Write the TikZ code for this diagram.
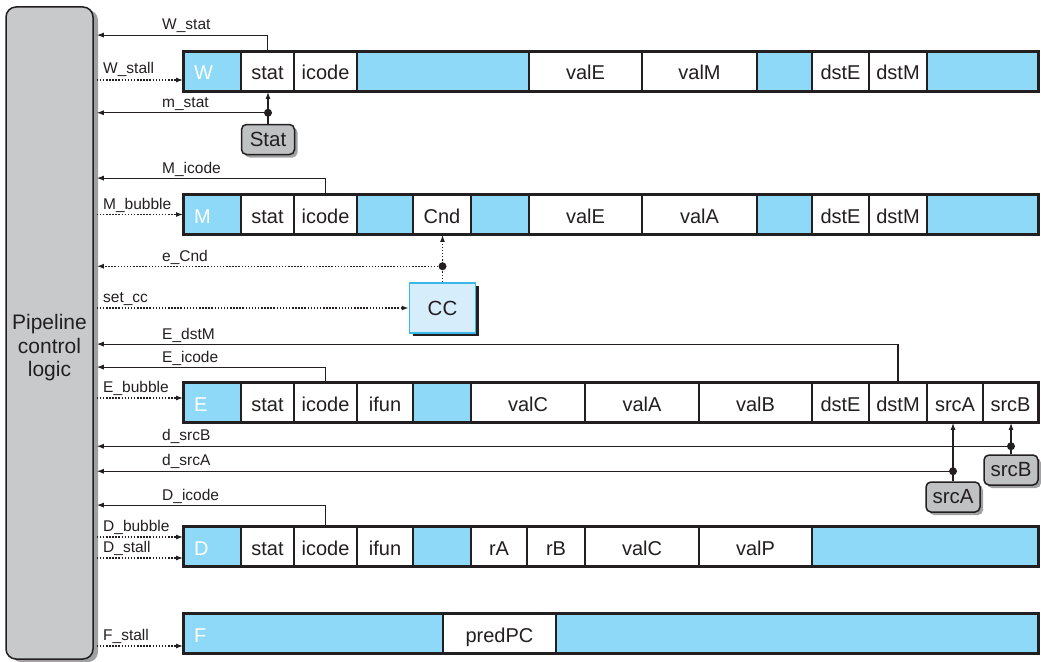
\documentclass[tikz,border=0pt]{standalone}
\usepackage{fontspec}
\setmainfont{Liberation Sans}
\usetikzlibrary{arrows.meta,shadows}

\definecolor{regblue}{RGB}{142,216,248}
\definecolor{ctrlgray}{RGB}{200,201,203}
\definecolor{shadegray}{RGB}{160,161,163}
\definecolor{boxgray}{RGB}{192,193,195}
\definecolor{ccfill}{RGB}{214,238,251}
\definecolor{ccline}{RGB}{58,184,234}
\definecolor{ink}{RGB}{35,31,32}

\tikzset{
  cell/.style={draw=ink, line width=1.8pt, minimum height=39pt, inner sep=0pt,
    text height=17pt, text depth=0pt, font=\fontsize{20}{22}\selectfont, text=ink},
  stage/.style={fill=regblue, text=white, align=left, text width=#1},
  field/.style={fill=white},
  gap/.style={fill=regblue},
  frame/.style={draw=ink, line width=3pt},
  sig/.style={font=\fontsize{15.5}{17}\selectfont, text=ink, inner sep=0pt, anchor=base west},
  fb/.style={draw=ink, line width=1.1pt, ->},
  ctl/.style={draw=ink, line width=1.5pt, dash pattern=on 1.5pt off 1.6pt, ->},
  dot/.style={circle, fill=ink, inner sep=0pt, minimum size=8pt},
  srcbox/.style={draw=ink, line width=1.5pt, fill=boxgray, rounded corners=5pt,
    minimum width=#1, minimum height=30pt, inner sep=0pt, text=ink,
    font=\fontsize{20.5}{22}\selectfont,
    drop shadow={shadow xshift=3pt, shadow yshift=-3pt, fill=shadegray, opacity=1}},
  ccbox/.style={draw=ccline, line width=1.5pt, fill=ccfill, minimum width=66pt,
    minimum height=50pt, inner sep=0pt, text=ink, font=\fontsize{20.5}{22}\selectfont,
    drop shadow={shadow xshift=3pt, shadow yshift=-3pt, fill=ink, opacity=1}},
  ctrlbox/.style={draw=ink, line width=1.5pt, fill=ctrlgray, rounded corners=10pt,
    minimum width=87pt, minimum height=652pt, inner sep=0pt,
    drop shadow={shadow xshift=5pt, shadow yshift=-3pt, fill=shadegray, opacity=1}},
  ctrltext/.style={align=center, text=ink, font=\fontsize{21}{23.5}\selectfont}
}

\begin{document}
\begin{tikzpicture}[x=1pt,y=-1pt,>={Latex[length=7pt,width=5pt]}]
\useasboundingbox (0,0) rectangle (1041,661);
% control logic
\node[ctrlbox] (ctrl) at (49.5,333) {};
\node[ctrltext] (ctrl-txt) at (49.5,348) {Pipeline\\control\\logic};
\coordinate (ce) at ([xshift=3pt]ctrl.east);

% W register
\foreach \xa/\xb/\nm/\txt/\kind in {184/241/W/W/stage, 241/294/W-stat/stat/field,
    294/357/W-icode/icode/field, 357/529/W-g1/{}/gap, 529/642/W-vale/valE/field,
    642/757/W-valm/valM/field, 757/812/W-g2/{}/gap, 812/869/W-dste/dstE/field,
    869/927/W-dstm/dstM/field, 927/1038/W-g3/{}/gap}{
  \pgfmathsetmacro\xm{(\xa+\xb)/2}
  \pgfmathsetmacro\cw{\xb-\xa}
  \pgfmathsetmacro\tw{\xb-\xa-20}
  \node[cell, \kind=\tw pt, minimum width=\cw pt] (\nm) at (\xm,71.5) {\txt};
}
\draw[frame] (W.north west) rectangle (W-g3.south east);

% M register
\foreach \xa/\xb/\nm/\txt/\kind in {184/241/M/M/stage, 241/294/M-stat/stat/field,
    294/357/M-icode/icode/field, 357/413/M-g1/{}/gap, 413/471/M-cnd/Cnd/field,
    471/529/M-g2/{}/gap, 529/642/M-vale/valE/field, 642/757/M-vala/valA/field,
    757/812/M-g3/{}/gap, 812/869/M-dste/dstE/field, 869/927/M-dstm/dstM/field,
    927/1038/M-g4/{}/gap}{
  \pgfmathsetmacro\xm{(\xa+\xb)/2}
  \pgfmathsetmacro\cw{\xb-\xa}
  \pgfmathsetmacro\tw{\xb-\xa-20}
  \node[cell, \kind=\tw pt, minimum width=\cw pt] (\nm) at (\xm,214.5) {\txt};
}
\draw[frame] (M.north west) rectangle (M-g4.south east);

% E register
\foreach \xa/\xb/\nm/\txt/\kind in {184/241/E/E/stage, 241/294/E-stat/stat/field,
    294/357/E-icode/icode/field, 357/413/E-ifun/ifun/field, 413/471/E-g1/{}/gap,
    471/585/E-valc/valC/field, 585/699/E-vala/valA/field, 699/812/E-valb/valB/field,
    812/869/E-dste/dstE/field, 869/927/E-dstm/dstM/field, 927/983/E-srca/srcA/field,
    983/1038/E-srcb/srcB/field}{
  \pgfmathsetmacro\xm{(\xa+\xb)/2}
  \pgfmathsetmacro\cw{\xb-\xa}
  \pgfmathsetmacro\tw{\xb-\xa-20}
  \node[cell, \kind=\tw pt, minimum width=\cw pt] (\nm) at (\xm,402.5) {\txt};
}
\draw[frame] (E.north west) rectangle (E-srcb.south east);

% D register
\foreach \xa/\xb/\nm/\txt/\kind in {184/241/D/D/stage, 241/294/D-stat/stat/field,
    294/357/D-icode/icode/field, 357/413/D-ifun/ifun/field, 413/471/D-g1/{}/gap,
    471/527/D-ra/rA/field, 527/585/D-rb/rB/field, 585/699/D-valc/valC/field,
    699/812/D-valp/valP/field, 812/1038/D-g2/{}/gap}{
  \pgfmathsetmacro\xm{(\xa+\xb)/2}
  \pgfmathsetmacro\cw{\xb-\xa}
  \pgfmathsetmacro\tw{\xb-\xa-20}
  \node[cell, \kind=\tw pt, minimum width=\cw pt] (\nm) at (\xm,546.5) {\txt};
}
\draw[frame] (D.north west) rectangle (D-g2.south east);

% F register
\foreach \xa/\xb/\nm/\txt/\kind in {184/443/F/F/stage, 443/556/F-predpc/predPC/field,
    556/1038/F-g1/{}/gap}{
  \pgfmathsetmacro\xm{(\xa+\xb)/2}
  \pgfmathsetmacro\cw{\xb-\xa}
  \pgfmathsetmacro\tw{\xb-\xa-20}
  \node[cell, \kind=\tw pt, minimum width=\cw pt] (\nm) at (\xm,633.5) {\txt};
}
\draw[frame] (F.north west) rectangle (F-g1.south east);

% W signals
\draw[fb] (W-stat.north) -- ++(0,-16) coordinate (w-stat) -- (ce |- w-stat);
\coordinate (w-in) at ([yshift=-8.5pt]W.west);
\draw[ctl] (ce |- w-in) -- (w-in);
\node[srcbox=53pt] (stat-src) at (268,139.5) {Stat};
\node[dot] (m-stat) at ([yshift=11pt]stat-src.north) {};
\draw[fb] (stat-src.north) -- (stat-src.north |- W-stat.south);
\draw[fb] (m-stat) -- (ce |- m-stat);
\node[sig] (l-wstat) at (162,30) {W\_stat};
\node[sig] (l-wstall) at (103,74) {W\_stall};
\node[sig] (l-mstat) at (162,107) {m\_stat};

% M signals and condition codes
\draw[fb] (M-icode.north) -- ++(0,-16) coordinate (m-icode) -- (ce |- m-icode);
\draw[ctl] (ce |- M.west) -- (M.west);
\node[ccbox] (cc) at (442.5,308) {CC};
\node[dot] (e-cnd) at ([yshift=16pt]cc.north) {};
\draw[ctl] (cc.north) -- (cc.north |- M-cnd.south);
\draw[ctl] (e-cnd) -- (ce |- e-cnd);
\draw[ctl] (ce |- cc.west) -- (cc.west);
\node[sig] (l-micode) at (162,173) {M\_icode};
\node[sig] (l-mbubble) at (103,209) {M\_bubble};
\node[sig] (l-ecnd) at (162,261) {e\_Cnd};
\node[sig] (l-setcc) at (103,302) {set\_cc};

% E signals
\draw[fb] (E-dstm.north) -- ++(0,-38) coordinate (e-dstm) -- (ce |- e-dstm);
\draw[fb] (E-icode.north) -- ++(0,-15) coordinate (e-icode) -- (ce |- e-icode);
\coordinate (e-in) at ([yshift=4.5pt]E.west);
\draw[ctl] (ce |- e-in) -- (e-in);
\node[sig] (l-edstm) at (162,339) {E\_dstM};
\node[sig] (l-eicode) at (162,362) {E\_icode};
\node[sig] (l-ebubble) at (103,392) {E\_bubble};

% register ids from decode
\node[srcbox=54pt] (srcb-src) at (1011,470) {srcB};
\node[srcbox=54pt] (srca-src) at (953,497) {srcA};
\node[dot] (d-srcb) at ([yshift=8pt]srcb-src.north) {};
\node[dot] (d-srca) at ([yshift=10pt]srca-src.north) {};
\draw[fb] (srcb-src.north) -- (srcb-src.north |- E-srcb.south);
\draw[fb] (srca-src.north) -- (srca-src.north |- E-srca.south);
\draw[fb] (d-srcb) -- (ce |- d-srcb);
\draw[fb] (d-srca) -- (ce |- d-srca);
\node[sig] (l-dsrcb) at (162,440) {d\_srcB};
\node[sig] (l-dsrca) at (162,465) {d\_srcA};

% D signals
\draw[fb] (D-icode.north) -- ++(0,-21) coordinate (d-icode) -- (ce |- d-icode);
\coordinate (d-in1) at ([yshift=9.5pt]D.west);
\coordinate (d-in2) at ([yshift=-11.5pt]D.west);
\draw[ctl] (ce |- d-in1) -- (d-in1);
\draw[ctl] (ce |- d-in2) -- (d-in2);
\node[sig] (l-dicode) at (162,500) {D\_icode};
\node[sig] (l-dbubble) at (103,531) {D\_bubble};
\node[sig] (l-dstall) at (103,552) {D\_stall};

% F signal
\coordinate (f-in) at ([yshift=-12.5pt]F.west);
\draw[ctl] (ce |- f-in) -- (f-in);
\node[sig] (l-fstall) at (103,640) {F\_stall};
\end{tikzpicture}
\end{document}
